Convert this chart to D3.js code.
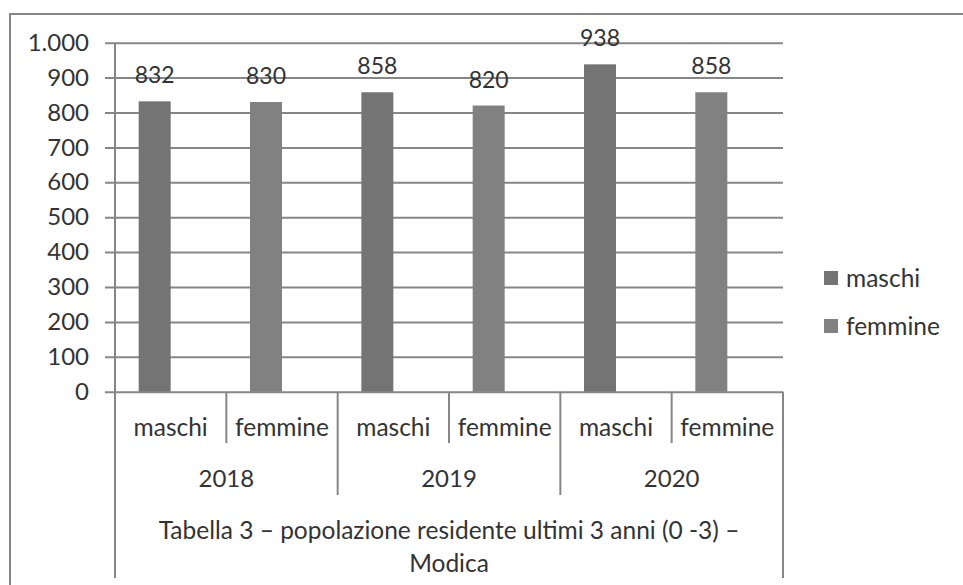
<!DOCTYPE html>
<html><head><meta charset="utf-8">
<script src="https://cdn.jsdelivr.net/npm/d3@7"></script>
<style>
html,body{margin:0;padding:0;background:#fff;}
svg{display:block;}
text{font-family:Lato,"Open Sans",sans-serif;fill:#333;}
</style></head>
<body><svg id="c" width="963" height="585"></svg>
<script>
const years = ["2018", "2019", "2020"];
const sexes = ["maschi", "femmine"];
const maschi = [832, 858, 938];
const femmine = [830, 820, 858];
const yTicks = [0, 100, 200, 300, 400, 500, 600, 700, 800, 900, 1000];
const seriesNames = ["maschi", "femmine"];
const titleLines = ["Tabella 3 \u2013 popolazione residente ultimi 3 anni (0 -3) \u2013", "Modica"];

const colors = {maschi: "#747474", femmine: "#818181"};
const lineCol = "#868686";

const svg = d3.select("#c");
const plot = {l: 115, r: 783, t: 42.7, b: 391.7};

// outer chart border
svg.append("rect").attr("x", 10).attr("y", 14).attr("width", 1000).attr("height", 1000)
  .attr("fill", "none").attr("stroke", lineCol).attr("stroke-width", 2);

const leaves = [];
years.forEach((yr, i) => sexes.forEach(s => leaves.push({year: yr, sex: s, key: yr + "|" + s,
  value: s === "maschi" ? maschi[i] : femmine[i]})));

const x = d3.scaleBand().domain(leaves.map(d => d.key)).range([plot.l, plot.r]).padding(0);
const slot = d3.scaleBand().domain(["s0", "s1"]).range([0, x.bandwidth()]).paddingInner(0).paddingOuter(0.74);
const y = d3.scaleLinear().domain([0, 1000]).range([plot.b, plot.t]);

const loc = d3.formatLocale({decimal: ",", thousands: ".", grouping: [3], currency: ["", "€"]});
const fmt = loc.format(",d");

// gridlines
const grid = svg.append("g").attr("transform", `translate(${plot.r},0)`)
  .call(d3.axisLeft(y).tickValues(yTicks).tickSize(plot.r - plot.l + 10).tickFormat(""));
grid.select(".domain").remove();
grid.selectAll("line").attr("stroke", lineCol).attr("stroke-width", 2);

// y axis labels
const ya = svg.append("g").attr("transform", `translate(${plot.l},0)`)
  .call(d3.axisLeft(y).tickValues(yTicks).tickSize(0).tickPadding(26).tickFormat(fmt));
ya.select(".domain").remove();
ya.selectAll("text").style("font-size", "24px").style("font-family", "Lato").attr("fill", "#333");

// bars
svg.append("g").selectAll("rect").data(leaves).join("rect")
  .attr("x", d => x(d.key) + slot("s0"))
  .attr("width", slot.bandwidth())
  .attr("y", d => y(d.value))
  .attr("height", d => y(0) - y(d.value))
  .attr("fill", d => colors[d.sex]);

// value labels
svg.append("g").selectAll("text").data(leaves).join("text")
  .attr("x", d => x(d.key) + slot("s0") + slot.bandwidth() / 2)
  .attr("y", d => y(d.value) - 18)
  .attr("text-anchor", "middle")
  .style("font-size", "23px")
  .text(d => d.value);

// category axis lines
const cat = svg.append("g").attr("stroke", lineCol).attr("stroke-width", 2);
cat.append("line").attr("x1", plot.l).attr("x2", plot.l).attr("y1", plot.t).attr("y2", 578);
cat.append("line").attr("x1", plot.r).attr("x2", plot.r).attr("y1", plot.b).attr("y2", 578);
leaves.forEach((d, i) => {
  if (i === 0) return;
  const xx = x(d.key);
  const major = d.sex === sexes[0];
  cat.append("line").attr("x1", xx).attr("x2", xx).attr("y1", plot.b).attr("y2", major ? 495 : 443);
});

// leaf labels
svg.append("g").selectAll("text").data(leaves).join("text")
  .attr("x", d => x(d.key) + x.bandwidth() / 2)
  .attr("y", 427).attr("dy", "0.35em").attr("text-anchor", "middle")
  .style("font-size", "24.5px").text(d => d.sex);

// year labels
svg.append("g").selectAll("text").data(years).join("text")
  .attr("x", yr => (x(yr + "|" + sexes[0]) + x(yr + "|" + sexes[1]) + x.bandwidth()) / 2)
  .attr("y", 479).attr("dy", "0.35em").attr("text-anchor", "middle")
  .style("font-size", "24px").text(d => d);

// title lines (in category axis)
svg.append("g").selectAll("text").data(titleLines).join("text")
  .attr("x", (plot.l + plot.r) / 2)
  .attr("y", (d, i) => 530 + i * 33).attr("dy", "0.35em").attr("text-anchor", "middle")
  .style("font-size", "24.5px").text(d => d);

// legend
const lg = svg.append("g").selectAll("g").data(seriesNames).join("g")
  .attr("transform", (d, i) => `translate(824,${278 + i * 48})`);
lg.append("rect").attr("x", 0).attr("y", -7).attr("width", 14).attr("height", 14)
  .attr("fill", d => colors[d]);
lg.append("text").attr("x", 22).attr("dy", "0.35em").style("font-size", "24.5px").text(d => d);
</script></body></html>
